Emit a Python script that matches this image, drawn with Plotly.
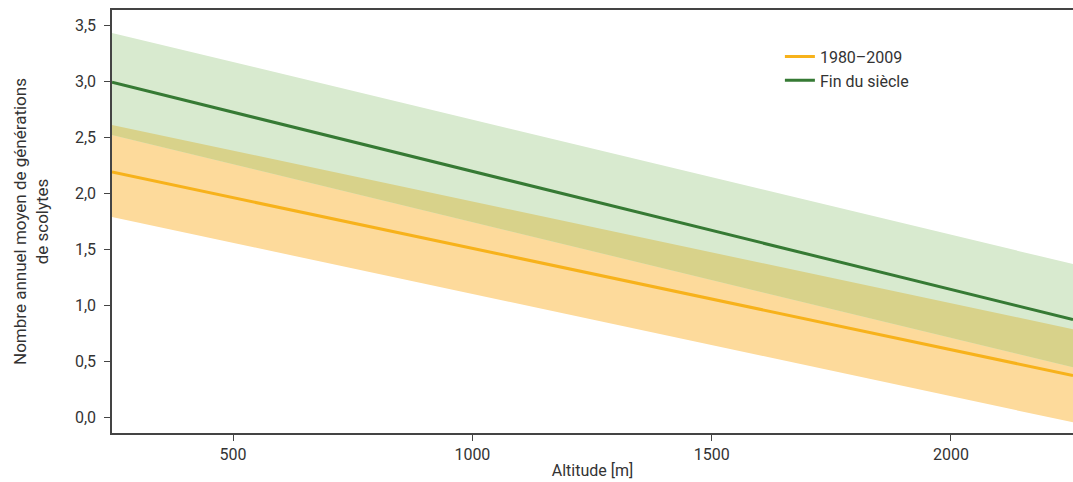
import plotly.graph_objects as go

altitude = [247, 2255]
orange_mean = [2.19, 0.377]
orange_upper = [2.61, 0.79]
orange_lower = [1.79, -0.04]
green_mean = [2.99, 0.875]
green_upper = [3.43, 1.37]
green_lower = [2.52, 0.45]

x_ticks = [500, 1000, 1500, 2000]
y_ticks = [0, 0.5, 1.0, 1.5, 2.0, 2.5, 3.0, 3.5]

ORANGE_LINE = "#f7b21b"
ORANGE_FILL = "#fdda9b"
GREEN_LINE = "#367a34"
GREEN_FILL = "#d8eacf"
OVERLAP_FILL = "#d8d28a"

overlap_top = [min(a, b) for a, b in zip(orange_upper, green_upper)]
overlap_bot = [max(a, b) for a, b in zip(orange_lower, green_lower)]

def band(upper, lower, color):
    return go.Scatter(
        x=altitude + altitude[::-1],
        y=upper + lower[::-1],
        fill="toself", fillcolor=color, line=dict(width=0),
        mode="lines", hoverinfo="skip", showlegend=False,
    )

fig = go.Figure()
fig.add_trace(band(orange_upper, orange_lower, ORANGE_FILL))
fig.add_trace(band(green_upper, green_lower, GREEN_FILL))
fig.add_trace(band(overlap_top, overlap_bot, OVERLAP_FILL))
fig.add_trace(go.Scatter(x=altitude, y=orange_mean, mode="lines",
                         line=dict(color=ORANGE_LINE, width=3), name="1980–2009"))
fig.add_trace(go.Scatter(x=altitude, y=green_mean, mode="lines",
                         line=dict(color=GREEN_LINE, width=3), name="Fin du siècle"))

FONT = "Roboto, Arial, sans-serif"
fig.update_layout(
    width=1073, height=482,
    margin=dict(l=112, r=0, t=10, b=49),
    plot_bgcolor="white", paper_bgcolor="white",
    separators=", ",
    font=dict(family=FONT, size=16, color="#333333"),
    legend=dict(x=0.695, y=0.93, xanchor="left", yanchor="top",
                font=dict(size=16, color="#333333"), bgcolor="rgba(0,0,0,0)",
                tracegroupgap=0),
    xaxis=dict(range=altitude, tickvals=x_ticks, showgrid=False, zeroline=False,
               showline=True, linecolor="#444444", linewidth=1.5, mirror=True,
               ticks="outside", ticklen=6, tickcolor="#444444",
               title=dict(text="Altitude [m]", font=dict(size=16), standoff=2)),
    yaxis=dict(range=[-0.135, 3.634], tickvals=y_ticks, tickformat=".1f",
               showgrid=False, zeroline=False,
               showline=True, linecolor="#444444", linewidth=1.5,
               ticks="outside", ticklen=6, tickcolor="#444444",
               ticklabelstandoff=5,
               title=dict(text="Nombre annuel moyen de générations<br>de scolytes",
                          font=dict(size=17), standoff=22)),
)

fig.write_html(
    "out.html",
    config={"displayModeBar": False},
    post_script="document.body.style.margin='0';document.body.style.overflow='hidden';",
)
